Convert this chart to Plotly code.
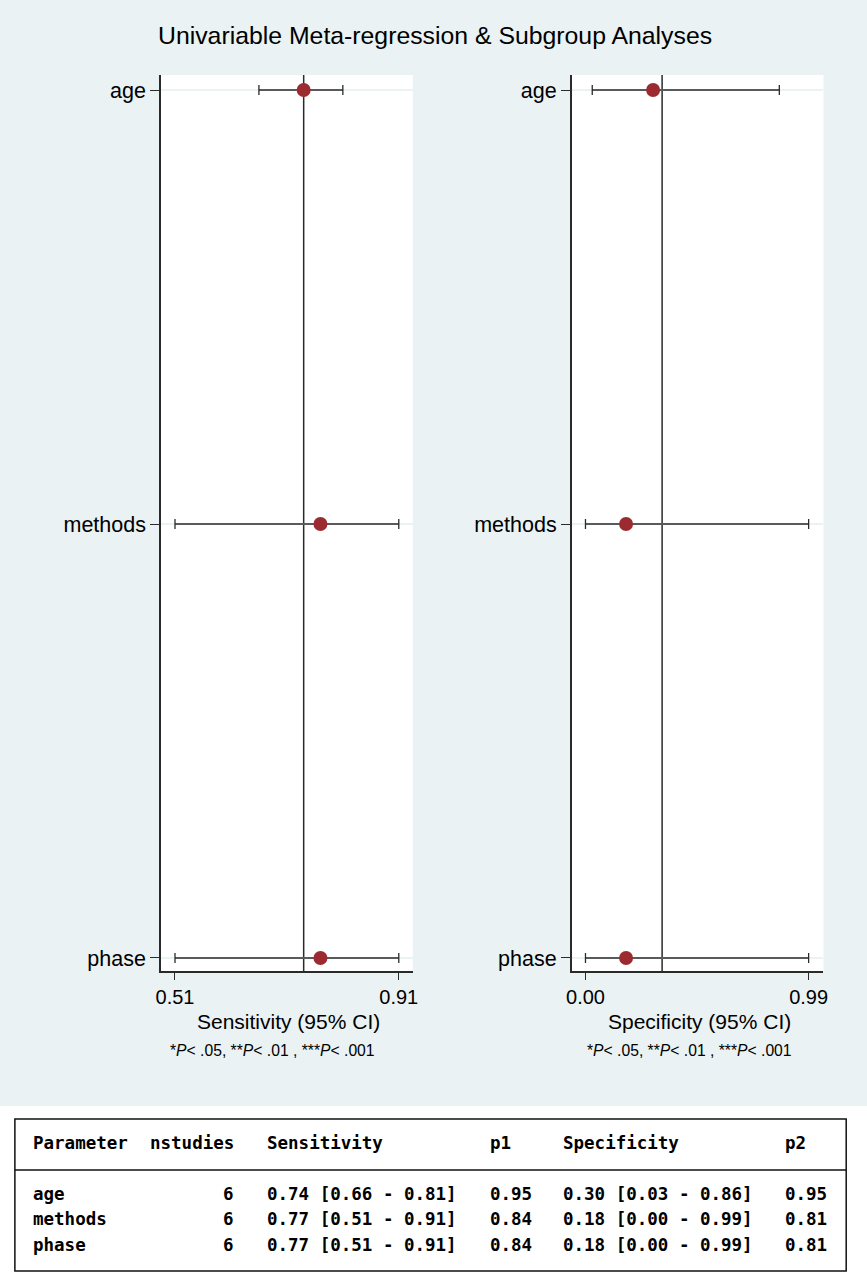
import plotly.graph_objects as go

# ---------------- data ----------------
params = ["age", "methods", "phase"]
nstudies = [6, 6, 6]
sens = [0.74, 0.77, 0.77]
sens_lo = [0.66, 0.51, 0.51]
sens_hi = [0.81, 0.91, 0.91]
p1 = [0.95, 0.84, 0.84]
spec = [0.30, 0.18, 0.18]
spec_lo = [0.03, 0.00, 0.00]
spec_hi = [0.86, 0.99, 0.99]
p2 = [0.95, 0.81, 0.81]
pooled_sens = 0.74
pooled_spec = 0.34
sens_ticks = [0.51, 0.91]
spec_ticks = [0.00, 0.99]
ypos = [3, 2, 1]

W, H = 867, 1280
BG = "#EAF2F3"
MARK = "#9B2B30"
LINE = "#2a2a2a"
SANS = "Liberation Sans, Arial, Helvetica, sans-serif"
MONO = "DejaVu Sans Mono, monospace"


def px(x):
    return x / W


def py(y):
    return 1 - y / H


fig = go.Figure()

for vals, lo, hi, xa, ya in [(sens, sens_lo, sens_hi, "x", "y"), (spec, spec_lo, spec_hi, "x2", "y2")]:
    fig.add_trace(go.Scatter(
        x=vals, y=ypos, xaxis=xa, yaxis=ya, mode="markers",
        marker=dict(color=MARK, size=14, line=dict(width=0)),
        error_x=dict(type="data", symmetric=False,
                     array=[h - v for h, v in zip(hi, vals)],
                     arrayminus=[v - l for v, l in zip(vals, lo)],
                     color=LINE, thickness=1.3, width=5),
        showlegend=False, hoverinfo="skip"))

yaxis_common = dict(
    range=[0.970, 3.0346], tickvals=ypos, ticktext=params,
    ticks="outside", ticklen=9, tickwidth=1.3, tickcolor=LINE,
    showline=True, linecolor=LINE, linewidth=1.5,
    showgrid=True, gridcolor=BG, gridwidth=1.5, zeroline=False,
    tickfont=dict(family=SANS, size=21.5, color="#000"),
    domain=[py(971), py(75)], fixedrange=True)

xaxis_common = dict(
    ticks="outside", ticklen=7, tickwidth=1.3, tickcolor=LINE,
    showline=True, linecolor=LINE, linewidth=1.5,
    showgrid=False, zeroline=False,
    tickfont=dict(family=SANS, size=20, color="#000"), fixedrange=True)

fig.update_layout(
    width=W, height=H, margin=dict(l=0, r=0, t=0, b=0),
    paper_bgcolor=BG, plot_bgcolor="white",
    xaxis=dict(xaxis_common, range=[0.485, 0.935], tickvals=sens_ticks,
               ticktext=[f"{t:.2f}" for t in sens_ticks],
               domain=[px(157), px(412)], anchor="y"),
    yaxis=dict(yaxis_common, anchor="x"),
    xaxis2=dict(xaxis_common, range=[-0.061, 1.056], tickvals=spec_ticks,
                ticktext=[f"{t:.2f}" for t in spec_ticks],
                domain=[px(573), px(828)], anchor="y2"),
    yaxis2=dict(yaxis_common, anchor="x2"),
)

# pooled reference lines
for val, xr, yr in [(pooled_sens, "x", "y domain"), (pooled_spec, "x2", "y2 domain")]:
    fig.add_shape(type="line", xref=xr, yref=yr, x0=val, x1=val, y0=0, y1=1,
                  line=dict(color=LINE, width=1.5), layer="below")

# white lower region + table box
fig.add_shape(type="rect", xref="paper", yref="paper", x0=-0.05, x1=1.05, y0=-0.05, y1=py(1106),
              fillcolor="white", line=dict(width=0), layer="below")
fig.add_shape(type="rect", xref="paper", yref="paper", x0=px(9), x1=px(851),
              y0=py(1271), y1=py(1119), line=dict(color="#111", width=1.5))
fig.add_shape(type="line", xref="paper", yref="paper", x0=px(9), x1=px(851),
              y0=py(1170), y1=py(1170), line=dict(color="#111", width=1.5))

ann = []
ann.append(dict(text="Univariable Meta-regression & Subgroup Analyses", x=px(435), y=py(35),
                font=dict(family=SANS, size=24.8, color="#000")))
ann.append(dict(text="Sensitivity (95% CI)", x=px(286), y=py(1021),
                font=dict(family=SANS, size=21, color="#000")))
ann.append(dict(text="Specificity (95% CI)", x=px(702), y=py(1021),
                font=dict(family=SANS, size=21, color="#000")))
foot = "*<i>P</i>< .05, **<i>P</i>< .01 , ***<i>P</i>< .001"
ann.append(dict(text=foot, x=px(270), y=py(1050), font=dict(family=SANS, size=15.7, color="#000")))
ann.append(dict(text=foot, x=px(692), y=py(1050), font=dict(family=SANS, size=15.7, color="#000")))
for a in ann:
    a.update(xref="paper", yref="paper", xanchor="center", yanchor="middle", showarrow=False)

tfont = dict(family=MONO, size=17.5, color="#000", weight="bold")
cols = [("Parameter", 25), ("nstudies", 144), ("Sensitivity", 262), ("p1", 488),
        ("Specificity", 562), ("p2", 787)]
tab = []
for txt, x in cols:
    tab.append(dict(text=txt, x=px(x), y=py(1143), xanchor="left"))
row_y = [1194, 1219, 1245]
for i, p in enumerate(params):
    yy = py(row_y[i])
    tab.append(dict(text=p, x=px(25), y=yy, xanchor="left"))
    tab.append(dict(text=str(nstudies[i]), x=px(233), y=yy, xanchor="right"))
    tab.append(dict(text=f"{sens[i]:.2f} [{sens_lo[i]:.2f} - {sens_hi[i]:.2f}]", x=px(262), y=yy, xanchor="left"))
    tab.append(dict(text=f"{p1[i]:.2f}", x=px(488), y=yy, xanchor="left"))
    tab.append(dict(text=f"{spec[i]:.2f} [{spec_lo[i]:.2f} - {spec_hi[i]:.2f}]", x=px(562), y=yy, xanchor="left"))
    tab.append(dict(text=f"{p2[i]:.2f}", x=px(787), y=yy, xanchor="left"))
for a in tab:
    a.update(xref="paper", yref="paper", yanchor="middle", showarrow=False, font=tfont)

fig.update_layout(annotations=ann + tab)
fig.write_html("out.html", config={"displayModeBar": False},
               post_script="document.body.style.margin='0';document.body.style.overflow='hidden';")
